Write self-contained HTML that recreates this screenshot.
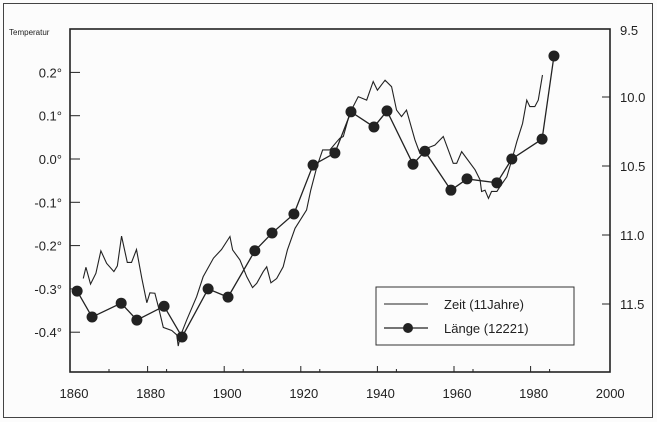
<!DOCTYPE html>
<html><head><meta charset="utf-8"><style>
html,body{margin:0;padding:0;background:#fcfcfc;}
svg{display:block;font-family:"Liberation Sans",sans-serif;}
</style></head><body>
<svg id="chart" width="657" height="422" viewBox="0 0 657 422">
<rect x="3.5" y="3.5" width="649" height="414" fill="#fcfcfc" stroke="#444" stroke-width="1"/>
<text x="9" y="35" font-size="8" fill="#222">Temperatur</text>
<g id="axes"></g>
<g id="series"></g>
<g>
<rect x="376" y="287" width="198" height="58" fill="#fcfcfc" stroke="#333" stroke-width="1"/>
<line x1="384" y1="304" x2="428" y2="304" stroke="#222" stroke-width="1"/>
<text x="444" y="309" font-size="13" fill="#222">Zeit (11Jahre)</text>
<line x1="384" y1="328" x2="428" y2="328" stroke="#222" stroke-width="1.3"/>
<circle cx="408" cy="328" r="5" fill="#222"/>
<text x="444" y="333" font-size="13" fill="#222">Länge (12221)</text>
</g>
</svg>
<script>
const xTicks=[1860,1880,1900,1920,1940,1960,1980,2000];
const yTicks=[0.2,0.1,0.0,-0.1,-0.2,-0.3,-0.4];
const yTickLabels=["0.2°","0.1°","0.0°","-0.1°","-0.2°","-0.3°","-0.4°"];
const rTicks=[9.5,10.0,10.5,11.0,11.5];
const rTickLabels=["9.5","10.0","10.5","11.0","11.5"];
const zeitYears=[1863.2,1863.9,1865.1,1866.5,1867.8,1869.3,1871.2,1872.1,1873.2,1874.7,1875.8,1877.1,1878.5,1879.8,1880.6,1881.9,1882.8,1884.1,1886.3,1887.6,1888.0,1888.5,1890.2,1892.8,1894.5,1897.2,1899.3,1901.5,1902.2,1904.1,1905.9,1907.4,1908.5,1910.2,1911.1,1912.2,1913.7,1915.4,1916.5,1918.5,1921.5,1922.6,1924.2,1925.7,1927.6,1929.4,1930.2,1931.1,1932.8,1935.0,1937.2,1938.9,1940.0,1942.0,1943.7,1945.0,1946.3,1947.6,1949.8,1951.1,1952.9,1955.0,1957.2,1959.8,1960.7,1962.0,1965.5,1966.8,1967.2,1968.1,1969.0,1969.8,1971.2,1972.0,1973.8,1975.1,1976.4,1977.9,1979.0,1979.8,1981.1,1982.0,1983.1];
const zeitValues=[-0.276,-0.250,-0.289,-0.264,-0.212,-0.241,-0.260,-0.247,-0.178,-0.239,-0.239,-0.209,-0.276,-0.332,-0.309,-0.310,-0.341,-0.389,-0.396,-0.406,-0.432,-0.410,-0.372,-0.318,-0.272,-0.229,-0.209,-0.179,-0.210,-0.233,-0.272,-0.297,-0.287,-0.260,-0.249,-0.286,-0.276,-0.249,-0.210,-0.160,-0.118,-0.072,-0.018,0.021,0.021,0.040,0.048,0.052,0.106,0.144,0.136,0.179,0.159,0.182,0.167,0.113,0.098,0.113,0.044,0.013,0.025,0.032,0.052,-0.010,-0.010,0.017,-0.025,-0.048,-0.075,-0.072,-0.091,-0.075,-0.075,-0.064,-0.041,-0.002,0.040,0.082,0.136,0.121,0.121,0.136,0.194];
const laengeYears=[1861.6,1865.5,1873.1,1877.2,1884.3,1889.0,1895.8,1901.0,1908.0,1912.5,1918.2,1923.2,1928.9,1933.1,1939.1,1942.5,1949.3,1952.4,1959.2,1963.4,1971.2,1975.1,1983.0,1986.1];
const laengeValues=[-0.305,-0.365,-0.333,-0.372,-0.340,-0.411,-0.300,-0.319,-0.212,-0.171,-0.127,-0.014,0.014,0.109,0.074,0.111,-0.012,0.018,-0.072,-0.046,-0.055,0.000,0.046,0.238];

const L=70,R=610,T=29,B=372;
function xs(yr){return 71+(yr-1860)*3.83;}
function ys(v){return 159-v*433;}
function rs(v){return 97+(v-10)*138;}
const NS="http://www.w3.org/2000/svg";
function mk(tag,attrs,parent){const e=document.createElementNS(NS,tag);for(const k in attrs)e.setAttribute(k,attrs[k]);parent.appendChild(e);return e;}
const ax=document.getElementById('axes');
const frame=mk('rect',{x:L,y:T,width:R-L,height:B-T,fill:'none',stroke:'#222','stroke-width':1.6},ax);


xTicks.forEach((t,i)=>{
  const x=xs(t);
  if(t>1860&&t<2000){const l=mk('line',{x1:x,y1:B,x2:x,y2:B-6,stroke:'#222'},ax);
  
  
  const m=mk('line',{x1:x+19,y1:B,x2:x+19,y2:B-3,stroke:'#222'},ax);
  
  }
  if(t===1860){const m=mk('line',{x1:x+38,y1:B,x2:x+38,y2:B-3,stroke:'#222'},ax);
  
  }
  const tx=mk('text',{x:x+3,y:398,'font-size':13,'text-anchor':'middle',fill:'#222'},ax);
  tx.textContent=t;
  
  
});
yTicks.forEach((t,i)=>{
  const y=ys(t);
  const l=mk('line',{x1:L,y1:y,x2:L+10,y2:y,stroke:'#222'},ax);
  
  
  const tx=mk('text',{x:62,y:y+5,'font-size':13,'text-anchor':'end',fill:'#222'},ax);
  tx.textContent=yTickLabels[i];
  
  
});
rTicks.forEach((t,i)=>{
  const y=rs(t);
  if(t>9.5){const l=mk('line',{x1:R-8,y1:y,x2:R,y2:y,stroke:'#222'},ax);
  
  }
  const tx=mk('text',{x:620,y:(t===9.5?35:y+5),'font-size':13,fill:'#222'},ax);
  tx.textContent=rTickLabels[i];
  
  
});
const sg=document.getElementById('series');
const zp=mk('polyline',{points:zeitYears.map((y,i)=>xs(y)+','+ys(zeitValues[i])).join(' '),fill:'none',stroke:'#222','stroke-width':1.1},sg);


const lp=mk('polyline',{points:laengeYears.map((y,i)=>xs(y)+','+ys(laengeValues[i])).join(' '),fill:'none',stroke:'#222','stroke-width':1.3},sg);


laengeYears.forEach((y,i)=>{
  const c=mk('circle',{cx:xs(y),cy:ys(laengeValues[i]),r:5.5,fill:'#222'},sg);
  
  
});
</script>
</body></html>
